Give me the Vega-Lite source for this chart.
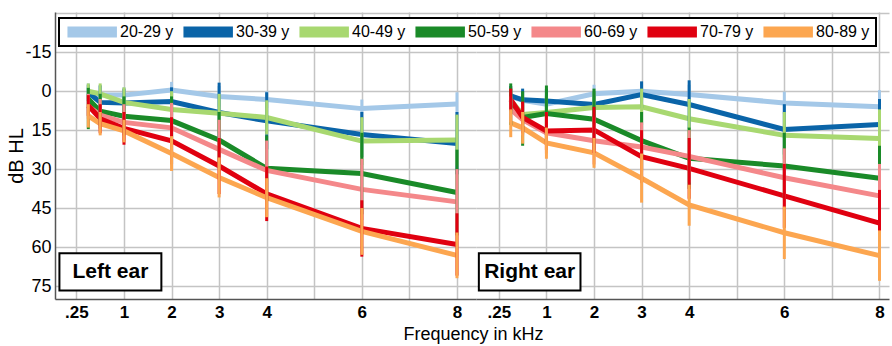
{
"$schema": "https://vega.github.io/schema/vega-lite/v6.json",
"padding": {"left": 6, "top": 12, "right": 2, "bottom": 2},
"spacing": 0,
"bounds": "flush",
"data": {"values": [
{"ear":"L","age":"20-29 y","f":0.25,"m":1,"lo":-3,"hi":5},
{"ear":"L","age":"20-29 y","f":0.5,"m":1.5,"lo":-2,"hi":5},
{"ear":"L","age":"20-29 y","f":1,"m":1.5,"lo":-1.5,"hi":4.5},
{"ear":"L","age":"20-29 y","f":2,"m":-0.5,"lo":-3.6,"hi":2.6},
{"ear":"L","age":"20-29 y","f":3,"m":2,"lo":-2,"hi":6},
{"ear":"L","age":"20-29 y","f":4,"m":3.2,"lo":0,"hi":6.5},
{"ear":"L","age":"20-29 y","f":6,"m":6.7,"lo":3.2,"hi":10.2},
{"ear":"L","age":"20-29 y","f":8,"m":4.9,"lo":0.4,"hi":9.4},
{"ear":"L","age":"30-39 y","f":0.25,"m":0.5,"lo":-2.5,"hi":3.5},
{"ear":"L","age":"30-39 y","f":0.5,"m":4.3,"lo":-2.3,"hi":10.9},
{"ear":"L","age":"30-39 y","f":1,"m":4.5,"lo":-1,"hi":10},
{"ear":"L","age":"30-39 y","f":2,"m":4,"lo":-1.5,"hi":9.5},
{"ear":"L","age":"30-39 y","f":3,"m":8.2,"lo":-3.3,"hi":19.7},
{"ear":"L","age":"30-39 y","f":4,"m":11.4,"lo":0.4,"hi":22.4},
{"ear":"L","age":"30-39 y","f":6,"m":16.7,"lo":8,"hi":25.4},
{"ear":"L","age":"30-39 y","f":8,"m":20.1,"lo":8,"hi":32},
{"ear":"L","age":"40-49 y","f":0.25,"m":0,"lo":-3,"hi":3},
{"ear":"L","age":"40-49 y","f":0.5,"m":1,"lo":-3,"hi":5},
{"ear":"L","age":"40-49 y","f":1,"m":4.3,"lo":-1.5,"hi":10},
{"ear":"L","age":"40-49 y","f":2,"m":7,"lo":0,"hi":14},
{"ear":"L","age":"40-49 y","f":3,"m":8.5,"lo":1,"hi":16},
{"ear":"L","age":"40-49 y","f":4,"m":10.1,"lo":3.5,"hi":16.7},
{"ear":"L","age":"40-49 y","f":6,"m":19.2,"lo":10,"hi":28.4},
{"ear":"L","age":"40-49 y","f":8,"m":18.8,"lo":9,"hi":28.6},
{"ear":"L","age":"50-59 y","f":0.25,"m":3,"lo":-1.3,"hi":14.6},
{"ear":"L","age":"50-59 y","f":0.5,"m":7.7,"lo":1,"hi":14.4},
{"ear":"L","age":"50-59 y","f":1,"m":9.6,"lo":2,"hi":17},
{"ear":"L","age":"50-59 y","f":2,"m":11.3,"lo":2,"hi":20.5},
{"ear":"L","age":"50-59 y","f":3,"m":18.8,"lo":8,"hi":29.6},
{"ear":"L","age":"50-59 y","f":4,"m":29.7,"lo":17,"hi":42.4},
{"ear":"L","age":"50-59 y","f":6,"m":31.7,"lo":16,"hi":47.4},
{"ear":"L","age":"50-59 y","f":8,"m":39,"lo":22.5,"hi":55.5},
{"ear":"L","age":"60-69 y","f":0.25,"m":5.8,"lo":1,"hi":10.6},
{"ear":"L","age":"60-69 y","f":0.5,"m":9.2,"lo":3,"hi":15.4},
{"ear":"L","age":"60-69 y","f":1,"m":12,"lo":5,"hi":19},
{"ear":"L","age":"60-69 y","f":2,"m":14.1,"lo":4.5,"hi":23.7},
{"ear":"L","age":"60-69 y","f":3,"m":22.4,"lo":11,"hi":33.8},
{"ear":"L","age":"60-69 y","f":4,"m":30.5,"lo":19,"hi":42},
{"ear":"L","age":"60-69 y","f":6,"m":37.8,"lo":26,"hi":49.6},
{"ear":"L","age":"60-69 y","f":8,"m":42.6,"lo":30,"hi":55.2},
{"ear":"L","age":"70-79 y","f":0.25,"m":5.5,"lo":1.5,"hi":9.5},
{"ear":"L","age":"70-79 y","f":0.5,"m":10.6,"lo":5,"hi":16.2},
{"ear":"L","age":"70-79 y","f":1,"m":14.3,"lo":8,"hi":20.6},
{"ear":"L","age":"70-79 y","f":2,"m":19.1,"lo":10,"hi":28.2},
{"ear":"L","age":"70-79 y","f":3,"m":28.8,"lo":18,"hi":39.6},
{"ear":"L","age":"70-79 y","f":4,"m":39.5,"lo":29,"hi":50},
{"ear":"L","age":"70-79 y","f":6,"m":52.8,"lo":42,"hi":63.7},
{"ear":"L","age":"70-79 y","f":8,"m":59,"lo":47,"hi":71},
{"ear":"L","age":"80-89 y","f":0.25,"m":9.5,"lo":5,"hi":14},
{"ear":"L","age":"80-89 y","f":0.5,"m":12.5,"lo":8,"hi":17},
{"ear":"L","age":"80-89 y","f":1,"m":15.3,"lo":11,"hi":19.7},
{"ear":"L","age":"80-89 y","f":2,"m":24,"lo":17.3,"hi":30.7},
{"ear":"L","age":"80-89 y","f":3,"m":33.2,"lo":25.5,"hi":40.9},
{"ear":"L","age":"80-89 y","f":4,"m":41,"lo":33.5,"hi":48.5},
{"ear":"L","age":"80-89 y","f":6,"m":54,"lo":45,"hi":63},
{"ear":"L","age":"80-89 y","f":8,"m":63.2,"lo":54.4,"hi":72},
{"ear":"R","age":"20-29 y","f":0.25,"m":2,"lo":-1.5,"hi":5.5},
{"ear":"R","age":"20-29 y","f":0.5,"m":3.5,"lo":0,"hi":7},
{"ear":"R","age":"20-29 y","f":1,"m":5,"lo":1.5,"hi":8.5},
{"ear":"R","age":"20-29 y","f":2,"m":1,"lo":-2.5,"hi":4.5},
{"ear":"R","age":"20-29 y","f":3,"m":0,"lo":-3.5,"hi":3.5},
{"ear":"R","age":"20-29 y","f":4,"m":1.3,"lo":-2.5,"hi":5.1},
{"ear":"R","age":"20-29 y","f":6,"m":4.5,"lo":0.2,"hi":8.8},
{"ear":"R","age":"20-29 y","f":8,"m":6,"lo":-0.4,"hi":12.4},
{"ear":"R","age":"30-39 y","f":0.25,"m":1.8,"lo":-2,"hi":5.6},
{"ear":"R","age":"30-39 y","f":0.5,"m":3.3,"lo":-1,"hi":7.6},
{"ear":"R","age":"30-39 y","f":1,"m":3.8,"lo":-1,"hi":8.6},
{"ear":"R","age":"30-39 y","f":2,"m":5.1,"lo":0,"hi":10.2},
{"ear":"R","age":"30-39 y","f":3,"m":1.3,"lo":-3.8,"hi":6.4},
{"ear":"R","age":"30-39 y","f":4,"m":5.1,"lo":-4.2,"hi":14.4},
{"ear":"R","age":"30-39 y","f":6,"m":14.7,"lo":5,"hi":24.4},
{"ear":"R","age":"30-39 y","f":8,"m":12.8,"lo":3,"hi":22.6},
{"ear":"R","age":"40-49 y","f":0.25,"m":3.5,"lo":-1,"hi":8},
{"ear":"R","age":"40-49 y","f":0.5,"m":9,"lo":4,"hi":14},
{"ear":"R","age":"40-49 y","f":1,"m":8.2,"lo":2,"hi":14.4},
{"ear":"R","age":"40-49 y","f":2,"m":6.3,"lo":0,"hi":12.6},
{"ear":"R","age":"40-49 y","f":3,"m":6,"lo":-1,"hi":13},
{"ear":"R","age":"40-49 y","f":4,"m":10.6,"lo":3,"hi":18.2},
{"ear":"R","age":"40-49 y","f":6,"m":17,"lo":8,"hi":26},
{"ear":"R","age":"40-49 y","f":8,"m":18.2,"lo":7,"hi":29.4},
{"ear":"R","age":"50-59 y","f":0.25,"m":5,"lo":-3,"hi":13},
{"ear":"R","age":"50-59 y","f":0.5,"m":10.1,"lo":0,"hi":21},
{"ear":"R","age":"50-59 y","f":1,"m":8.6,"lo":-2.2,"hi":19.4},
{"ear":"R","age":"50-59 y","f":2,"m":10.8,"lo":-1,"hi":22.6},
{"ear":"R","age":"50-59 y","f":3,"m":19,"lo":8,"hi":30},
{"ear":"R","age":"50-59 y","f":4,"m":25.8,"lo":14,"hi":37.6},
{"ear":"R","age":"50-59 y","f":6,"m":28.8,"lo":16,"hi":41.6},
{"ear":"R","age":"50-59 y","f":8,"m":33.5,"lo":21,"hi":46},
{"ear":"R","age":"60-69 y","f":0.25,"m":7,"lo":2,"hi":12},
{"ear":"R","age":"60-69 y","f":0.5,"m":11,"lo":5,"hi":17},
{"ear":"R","age":"60-69 y","f":1,"m":16,"lo":8,"hi":24},
{"ear":"R","age":"60-69 y","f":2,"m":19.1,"lo":10,"hi":28.2},
{"ear":"R","age":"60-69 y","f":3,"m":21.5,"lo":12,"hi":31},
{"ear":"R","age":"60-69 y","f":4,"m":25.1,"lo":15,"hi":35.2},
{"ear":"R","age":"60-69 y","f":6,"m":33.3,"lo":22,"hi":44.6},
{"ear":"R","age":"60-69 y","f":8,"m":40.3,"lo":28,"hi":52.6},
{"ear":"R","age":"70-79 y","f":0.25,"m":3.2,"lo":-1,"hi":7.4},
{"ear":"R","age":"70-79 y","f":0.5,"m":10.1,"lo":4,"hi":16.2},
{"ear":"R","age":"70-79 y","f":1,"m":15.3,"lo":8,"hi":22.6},
{"ear":"R","age":"70-79 y","f":2,"m":14.9,"lo":6,"hi":23.8},
{"ear":"R","age":"70-79 y","f":3,"m":25.2,"lo":15,"hi":35.4},
{"ear":"R","age":"70-79 y","f":4,"m":29.7,"lo":18,"hi":41.4},
{"ear":"R","age":"70-79 y","f":6,"m":40.3,"lo":28,"hi":52.6},
{"ear":"R","age":"70-79 y","f":8,"m":50.8,"lo":38,"hi":63.6},
{"ear":"R","age":"80-89 y","f":0.25,"m":12.2,"lo":7,"hi":17.7},
{"ear":"R","age":"80-89 y","f":0.5,"m":14.1,"lo":8,"hi":20.2},
{"ear":"R","age":"80-89 y","f":1,"m":19.9,"lo":14,"hi":26},
{"ear":"R","age":"80-89 y","f":2,"m":23.7,"lo":18,"hi":29.5},
{"ear":"R","age":"80-89 y","f":3,"m":33.5,"lo":24,"hi":42.9},
{"ear":"R","age":"80-89 y","f":4,"m":43.8,"lo":36,"hi":51.8},
{"ear":"R","age":"80-89 y","f":6,"m":54.5,"lo":44.4,"hi":64.6},
{"ear":"R","age":"80-89 y","f":8,"m":63.3,"lo":53.6,"hi":73}
]},
"config": {
  "font": "Liberation Sans",
  "view": {"stroke": null},
  "axis": {"gridColor": "#c4c4c4", "gridWidth": 1.5, "domainColor": "#555555", "domainWidth": 1.5, "ticks": false, "labelColor": "black", "titleColor": "black", "labelFont": "Liberation Sans", "titleFont": "Liberation Sans", "titleFontWeight": "normal"},
  "legend": {"labelFont": "Liberation Sans", "labelFontSize": 16, "labelColor": "black"}
},
"resolve": {"scale": {"x": "independent", "y": "independent", "color": "shared"}, "legend": {"color": "shared"}},
"hconcat": [
 {
  "width": 421, "height": 287,
  "layer": [
   {"transform": [{"filter": "datum.ear == 'L'"}], "mark": {"type": "line", "strokeWidth": 5, "strokeCap": "butt"},
    "encoding": {
     "x": {"field": "f", "type": "quantitative", "scale": {"domain": [-0.45, 8.4], "nice": false, "zero": false},
       "axis": {"values": [0,1,2,3,4,5,6,7,8], "labelExpr": "datum.value == 0 ? '.25' : (datum.value == 5 || datum.value == 7 ? '' : datum.label)", "labelFontWeight": "bold", "labelFontSize": 17, "labelPadding": 5, "labelOverlap": false, "title": "Frequency in kHz", "titleFontSize": 18, "titleX": 418, "titlePadding": 5}},
     "y": {"field": "m", "type": "quantitative", "scale": {"domain": [-30.5, 80], "reverse": true, "nice": false, "zero": false},
       "axis": {"values": [-30,-15,0,15,30,45,60,75], "labelExpr": "datum.value == -30 ? '' : toString(datum.value)", "labelFontSize": 18, "labelPadding": 4, "title": "dB HL", "titleFontSize": 20, "titlePadding": -2}},
     "color": {"field": "age", "type": "nominal",
       "scale": {"domain": ["20-29 y","30-39 y","40-49 y","50-59 y","60-69 y","70-79 y","80-89 y"], "range": ["#a4c8e8","#0a64a8","#a8d870","#1a8a28","#f4888a","#e00010","#fca650"]},
       "legend": {"title": null, "orient": "none", "legendX": 4, "legendY": 6, "direction": "horizontal", "symbolType": "M-1,-1H9V1H-1Z", "symbolSize": 92, "labelOffset": 39, "columnPadding": 7, "padding": 6, "strokeColor": "black", "fillColor": "white",
         "encode": {"legend": {"update": {"strokeWidth": {"value": 2}}}, "symbols": {"update": {"fill": {"scale": "color", "field": "value"}, "stroke": {"value": "black"}, "strokeWidth": {"value": 1.5}, "opacity": {"value": 1}}}}}
     }
    }
   },
   {"transform": [{"filter": "datum.ear == 'L'"}], "mark": {"type": "rule", "strokeWidth": 3},
    "encoding": {"x": {"field": "f", "type": "quantitative"}, "y": {"field": "lo", "type": "quantitative"}, "y2": {"field": "hi"}, "color": {"field": "age", "type": "nominal"}}
   },
   {"data": {"values": [{"label": "Left ear"}]}, "mark": {"type": "rect", "fill": "white", "stroke": "black", "strokeWidth": 2},
    "encoding": {"x": {"datum": -0.357}, "x2": {"datum": 1.786}, "y": {"datum": 62.4}, "y2": {"datum": 76.7}}},
   {"data": {"values": [{"label": "Left ear"}]}, "mark": {"type": "text", "fontSize": 21, "fontWeight": "bold", "color": "black", "font": "Liberation Sans"},
    "encoding": {"x": {"datum": 0.714}, "y": {"datum": 69.6}, "text": {"field": "label"}}}
  ]
 },
 {
  "width": 413, "height": 287,
  "layer": [
   {"transform": [{"filter": "datum.ear == 'R'"}], "mark": {"type": "line", "strokeWidth": 5, "strokeCap": "butt"},
    "encoding": {
     "x": {"field": "f", "type": "quantitative", "scale": {"domain": [-0.48, 8.2], "nice": false, "zero": false},
       "axis": {"values": [0,1,2,3,4,5,6,7,8], "labelExpr": "datum.value == 0 ? '.25' : (datum.value == 5 || datum.value == 7 ? '' : datum.label)", "labelFontWeight": "bold", "labelFontSize": 17, "labelPadding": 5, "labelOverlap": false, "title": null}},
     "y": {"field": "m", "type": "quantitative", "scale": {"domain": [-30.5, 80], "reverse": true, "nice": false, "zero": false},
       "axis": {"values": [-30,-15,0,15,30,45,60,75], "labels": false, "domain": false, "title": null}},
     "color": {"field": "age", "type": "nominal"}
    }
   },
   {"transform": [{"filter": "datum.ear == 'R'"}], "mark": {"type": "rule", "strokeWidth": 3},
    "encoding": {"x": {"field": "f", "type": "quantitative"}, "y": {"field": "lo", "type": "quantitative"}, "y2": {"field": "hi"}, "color": {"field": "age", "type": "nominal"}}
   },
   {"data": {"values": [{"label": "Right ear"}]}, "mark": {"type": "rect", "fill": "white", "stroke": "black", "strokeWidth": 2},
    "encoding": {"x": {"datum": -0.42}, "x2": {"datum": 1.716}, "y": {"datum": 62.4}, "y2": {"datum": 76.7}}},
   {"data": {"values": [{"label": "Right ear"}]}, "mark": {"type": "text", "fontSize": 21, "fontWeight": "bold", "color": "black", "font": "Liberation Sans"},
    "encoding": {"x": {"datum": 0.648}, "y": {"datum": 69.6}, "text": {"field": "label"}}}
  ]
 }
]
}
